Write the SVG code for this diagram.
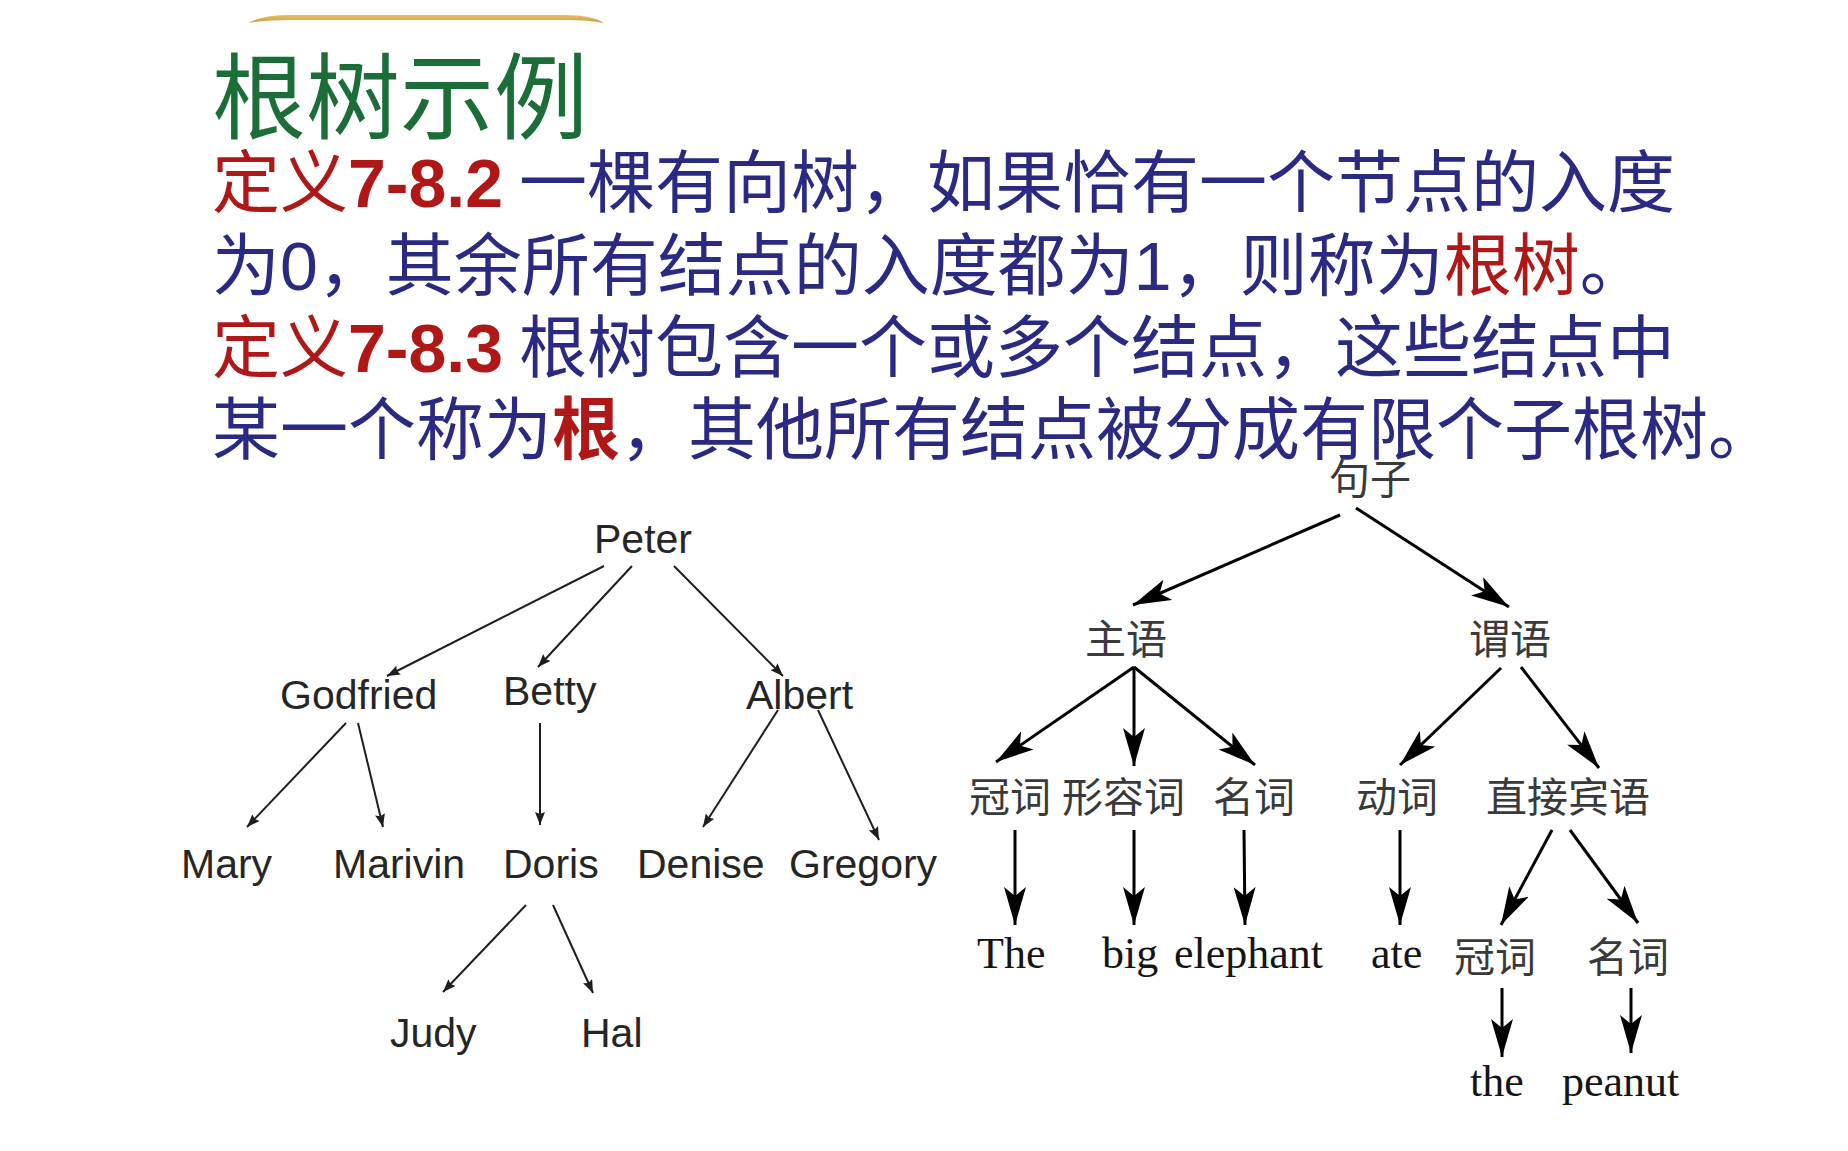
<svg xmlns="http://www.w3.org/2000/svg" width="1848" height="1151" viewBox="0 0 1848 1151">
<style>
.title{font-family:"Noto Sans CJK SC","Liberation Sans",sans-serif;font-size:94px;fill:#1b6e37}
.body{font-family:"Liberation Sans","Noto Sans CJK SC",sans-serif;font-size:68px;fill:#2a2a85}
.red{fill:#b01818}
.b{font-weight:bold}
.ln{font-family:"Liberation Sans",Arial,sans-serif;font-size:41px;fill:#262626}
.cn{font-family:"Noto Sans CJK SC",sans-serif;font-size:41px;fill:#3a3a3a}
.en{font-family:"Liberation Serif","Times New Roman",serif;font-size:44px;fill:#151515}
.el{stroke:#1e1e1e;stroke-width:2;fill:none;marker-end:url(#sm)}
.er{stroke:#000;stroke-width:3;fill:none;marker-end:url(#bg)}
</style>
<defs>
<linearGradient id="gold" x1="0" y1="0" x2="0" y2="1">
<stop offset="0" stop-color="#e8c06a"/>
<stop offset="1" stop-color="#c99a3c"/>
</linearGradient>
<marker id="sm" viewBox="0 0 13 10" refX="13" refY="5" markerWidth="13" markerHeight="10" markerUnits="userSpaceOnUse" orient="auto">
<path d="M0,0 L13,5 L0,10 L2,5 Z" fill="#1e1e1e"/>
</marker>
<marker id="bg" viewBox="0 0 38 22" refX="38" refY="11" markerWidth="38" markerHeight="22" markerUnits="userSpaceOnUse" orient="auto">
<path d="M0,0 L38,11 L0,22 L9,11 Z" fill="#000"/>
</marker>
</defs>
<rect width="1848" height="1151" fill="#ffffff"/>
<path d="M248,23 Q262,15 290,15 L565,15 Q592,15 604,23 Q590,20 565,20 L290,20 Q265,20 248,23 Z" fill="url(#gold)"/>
<text class="title" x="212" y="132">根树示例</text>
<g id="text-body">
<text class="body" y="207"><tspan class="red" x="212">定义</tspan><tspan class="red b">7-8.2</tspan><tspan x="519">一棵有向树，如果恰有一个节点的入度</tspan></text>
<text class="body" x="212" y="290">为0，其余所有结点的入度都为1，则称为<tspan class="red">根树</tspan>。</text>
<text class="body" y="372"><tspan class="red" x="212">定义</tspan><tspan class="red b">7-8.3</tspan><tspan x="519">根树包含一个或多个结点，这些结点中</tspan></text>
<text class="body" x="212" y="454">某一个称为<tspan class="red b">根</tspan>，其他所有结点被分成有限个子根树。</text>
</g>
<g id="connectors-left">
<line class="el" x1="604" y1="566" x2="387" y2="676"/>
<line class="el" x1="632" y1="566" x2="538" y2="667"/>
<line class="el" x1="674" y1="566" x2="783" y2="676"/>
<line class="el" x1="346" y1="723" x2="247" y2="827"/>
<line class="el" x1="358" y1="723" x2="383" y2="827"/>
<line class="el" x1="540" y1="723" x2="540" y2="825"/>
<line class="el" x1="778" y1="710" x2="703" y2="827"/>
<line class="el" x1="818" y1="710" x2="879" y2="840"/>
<line class="el" x1="526" y1="905" x2="443" y2="992"/>
<line class="el" x1="553" y1="905" x2="593" y2="993"/>
</g>
<g id="node-peter"><text class="ln" x="594" y="553">Peter</text></g>
<g id="node-godfried"><text class="ln" x="280" y="709">Godfried</text></g>
<g id="node-betty"><text class="ln" x="503" y="705">Betty</text></g>
<g id="node-albert"><text class="ln" x="746" y="709">Albert</text></g>
<g id="node-mary"><text class="ln" x="181" y="878">Mary</text></g>
<g id="node-marivin"><text class="ln" x="333" y="878">Marivin</text></g>
<g id="node-doris"><text class="ln" x="503" y="878">Doris</text></g>
<g id="node-denise"><text class="ln" x="637" y="878">Denise</text></g>
<g id="node-gregory"><text class="ln" x="789" y="878">Gregory</text></g>
<g id="node-judy"><text class="ln" x="390" y="1047">Judy</text></g>
<g id="node-hal"><text class="ln" x="581" y="1047">Hal</text></g>
<g id="connectors-right">
<line class="er" x1="1340" y1="515" x2="1133" y2="605"/>
<line class="er" x1="1356" y1="508" x2="1509" y2="607"/>
<line class="er" x1="1134" y1="667" x2="996" y2="762"/>
<line class="er" x1="1134" y1="667" x2="1134" y2="766"/>
<line class="er" x1="1134" y1="667" x2="1255" y2="765"/>
<line class="er" x1="1501" y1="668" x2="1400" y2="765"/>
<line class="er" x1="1521" y1="667" x2="1599" y2="768"/>
<line class="er" x1="1015" y1="830" x2="1015" y2="925"/>
<line class="er" x1="1134" y1="830" x2="1134" y2="925"/>
<line class="er" x1="1244" y1="830" x2="1245" y2="925"/>
<line class="er" x1="1400" y1="830" x2="1400" y2="925"/>
<line class="er" x1="1552" y1="830" x2="1501" y2="925"/>
<line class="er" x1="1570" y1="830" x2="1638" y2="923"/>
<line class="er" x1="1502" y1="988" x2="1502" y2="1057"/>
<line class="er" x1="1631" y1="988" x2="1631" y2="1053"/>
</g>
<g id="node-juzi"><text class="cn" x="1329" y="494">句子</text></g>
<g id="node-zhuyu"><text class="cn" x="1085" y="654">主语</text></g>
<g id="node-weiyu"><text class="cn" x="1469" y="654">谓语</text></g>
<g id="node-guanci1"><text class="cn" x="969" y="812">冠词</text></g>
<g id="node-xingrongci"><text class="cn" x="1062" y="812">形容词</text></g>
<g id="node-mingci1"><text class="cn" x="1213" y="812">名词</text></g>
<g id="node-dongci"><text class="cn" x="1356" y="812">动词</text></g>
<g id="node-zhijiebinyu"><text class="cn" x="1486" y="812">直接宾语</text></g>
<g id="node-the1"><text class="en" x="977" y="968">The</text></g>
<g id="node-big"><text class="en" x="1102" y="968">big</text></g>
<g id="node-elephant"><text class="en" x="1174" y="968">elephant</text></g>
<g id="node-ate"><text class="en" x="1371" y="968">ate</text></g>
<g id="node-guanci2"><text class="cn" x="1454" y="972">冠词</text></g>
<g id="node-mingci2"><text class="cn" x="1587" y="972">名词</text></g>
<g id="node-the2"><text class="en" x="1470" y="1096">the</text></g>
<g id="node-peanut"><text class="en" x="1562" y="1096">peanut</text></g>
</svg>
